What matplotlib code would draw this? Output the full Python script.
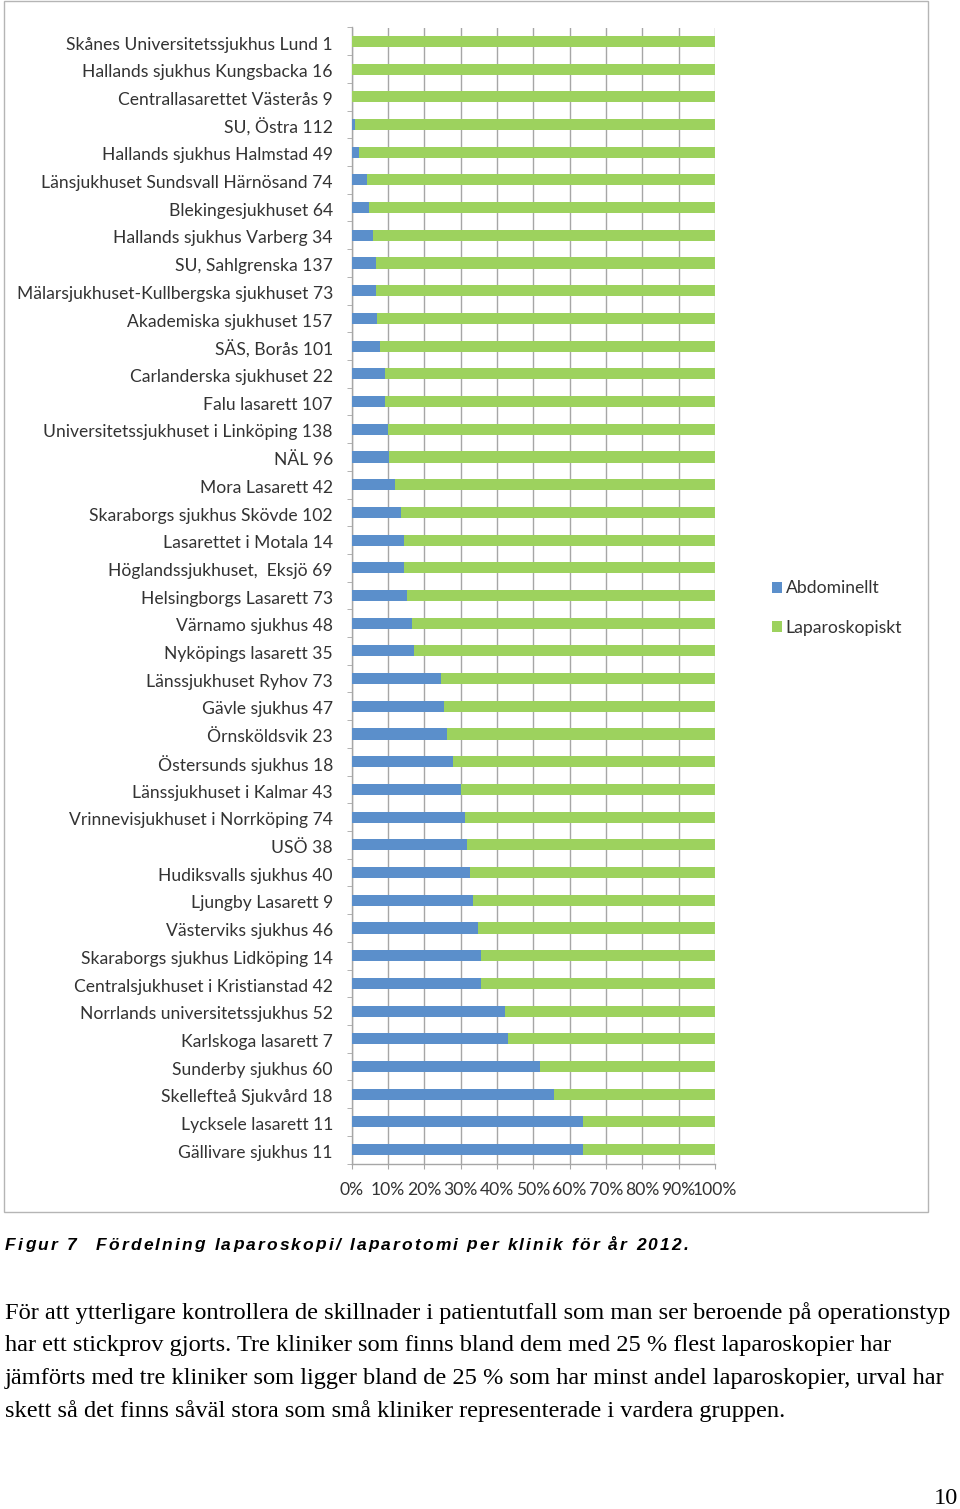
import matplotlib
matplotlib.use("Agg")
import matplotlib.pyplot as plt
import numpy as np
from matplotlib.patches import Rectangle
from matplotlib.textpath import TextToPath
from matplotlib.font_manager import FontProperties

clinics = [
    "Skånes Universitetssjukhus Lund 1",
    "Hallands sjukhus Kungsbacka 16",
    "Centrallasarettet Västerås 9",
    "SU, Östra 112",
    "Hallands sjukhus Halmstad 49",
    "Länsjukhuset Sundsvall Härnösand 74",
    "Blekingesjukhuset 64",
    "Hallands sjukhus Varberg 34",
    "SU, Sahlgrenska 137",
    "Mälarsjukhuset-Kullbergska sjukhuset 73",
    "Akademiska sjukhuset 157",
    "SÄS, Borås 101",
    "Carlanderska sjukhuset 22",
    "Falu lasarett 107",
    "Universitetssjukhuset i Linköping 138",
    "NÄL 96",
    "Mora Lasarett 42",
    "Skaraborgs sjukhus Skövde 102",
    "Lasarettet i Motala 14",
    "Höglandssjukhuset,  Eksjö 69",
    "Helsingborgs Lasarett 73",
    "Värnamo sjukhus 48",
    "Nyköpings lasarett 35",
    "Länssjukhuset Ryhov 73",
    "Gävle sjukhus 47",
    "Örnsköldsvik 23",
    "Östersunds sjukhus 18",
    "Länssjukhuset i Kalmar 43",
    "Vrinnevisjukhuset i Norrköping 74",
    "USÖ 38",
    "Hudiksvalls sjukhus 40",
    "Ljungby Lasarett 9",
    "Västerviks sjukhus 46",
    "Skaraborgs sjukhus Lidköping 14",
    "Centralsjukhuset i Kristianstad 42",
    "Norrlands universitetssjukhus 52",
    "Karlskoga lasarett 7",
    "Sunderby sjukhus 60",
    "Skellefteå Sjukvård 18",
    "Lycksele lasarett 11",
    "Gällivare sjukhus 11",
]

abdominellt = [0.0, 0.0, 0.0, 0.9, 2.0, 4.1, 4.7, 5.9, 6.6, 6.8, 7.0, 7.9,
               9.1, 9.3, 10.1, 10.4, 11.9, 13.7, 14.3, 14.5, 15.1, 16.7, 17.1,
               24.7, 25.5, 26.1, 27.8, 30.2, 31.1, 31.6, 32.5, 33.3, 34.8,
               35.7, 35.7, 42.3, 42.9, 51.7, 55.6, 63.6, 63.6]
laparoskopiskt = [100.0, 100.0, 100.0, 99.1, 98.0, 95.9, 95.3, 94.1, 93.4,
                  93.2, 93.0, 92.1, 90.9, 90.7, 89.9, 89.6, 88.1, 86.3, 85.7,
                  85.5, 84.9, 83.3, 82.9, 75.3, 74.5, 73.9, 72.2, 69.8, 68.9,
                  68.4, 67.5, 66.7, 65.2, 64.3, 64.3, 57.7, 57.1, 48.3, 44.4,
                  36.4, 36.4]
series_names = ["Abdominellt", "Laparoskopiskt"]
x_ticks = [0, 10, 20, 30, 40, 50, 60, 70, 80, 90, 100]
x_ticklabels = ["0%", "10%", "20%", "30%", "40%", "50%", "60%", "70%", "80%", "90%", "100%"]

caption_a = "Figur 7"
caption_b = "Fördelning laparoskopi/ laparotomi per klinik för år 2012."
body_lines = [
    "För att ytterligare kontrollera de skillnader i patientutfall som man ser beroende på operationstyp",
    "har ett stickprov gjorts. Tre kliniker som finns bland dem med 25 % flest laparoskopier har",
    "jämförts med tre kliniker som ligger bland de 25 % som har minst andel laparoskopier, urval har",
    "skett så det finns såväl stora som små kliniker representerade i vardera gruppen.",
]
page_number = "10"

W, H = 960, 1509
DPI = 100
BLUE = "#5b8fcb"
GREEN = "#9dd25e"
GRID = "#a6a6a6"
TXT = "#333333"

ttp = TextToPath()


def width_px(s, fp):
    w, h, d = ttp.get_text_width_height_descent(s, fp, ismath=False)
    return w * DPI / 72.0


# fit label font size to reference width
LABEL_FAMILY = "Lato"
probe = FontProperties(family=LABEL_FAMILY, size=12)
label_size = 12 * 265.0 / width_px(clinics[0], probe)

fig = plt.figure(figsize=(W / DPI, H / DPI), dpi=DPI)
fig.patch.set_facecolor("white")

# chart frame
fig.add_artist(Rectangle((4 / W, 1 - 1212 / H), (928 - 4) / W, 1211 / H,
                         transform=fig.transFigure, fill=False,
                         edgecolor="#b5b5b5", lw=1))

left, right = 351.7 / W, 715.0 / W
top, bottom = 1 - 27.5 / H, 1 - 1163.5 / H
ax = fig.add_axes([left, bottom, right - left, top - bottom])

y = np.arange(len(clinics))
b1 = ax.barh(y, abdominellt, height=0.4, color=BLUE, label=series_names[0], zorder=3)
b2 = ax.barh(y, laparoskopiskt, left=abdominellt, height=0.4, color=GREEN,
             label=series_names[1], zorder=3)

ax.set_xlim(0, 100)
ax.set_ylim(len(clinics) - 0.5, -0.5)
ax.set_xticks(x_ticks)
ax.set_xticklabels(x_ticklabels, family=LABEL_FAMILY, fontsize=label_size, color=TXT)
ax.set_yticks(y + 0.06)
ax.set_yticklabels(clinics, family=LABEL_FAMILY, fontsize=label_size, color=TXT)
ax.set_yticks(np.arange(len(clinics) + 1) - 0.5, minor=True)
ax.tick_params(axis="y", which="major", length=0, pad=13.5)
ax.tick_params(axis="y", which="minor", length=3.5, color=GRID, direction="out")
ax.tick_params(axis="x", which="major", length=3.5, color=GRID, direction="out", pad=9.5)
ax.xaxis.grid(True, color=GRID, lw=1, zorder=0)
ax.set_axisbelow(True)
for s in ["top", "right"]:
    ax.spines[s].set_visible(False)
for s in ["left", "bottom"]:
    ax.spines[s].set_color(GRID)
    ax.spines[s].set_linewidth(1)

fig.legend(handles=[b1, b2], labels=series_names, loc="center left",
           bbox_to_anchor=(756 / W, 1 - 608 / H), frameon=False,
           prop=FontProperties(family=LABEL_FAMILY, size=label_size),
           handlelength=0.6, handleheight=0.6, handletextpad=0.2,
           labelspacing=1.35, labelcolor=TXT)

# caption with letter tracking
cap_fp = FontProperties(family="Liberation Sans", weight="bold", style="italic", size=12.5)


def tracked(x0, x1, yc, s, fp):
    widths = [width_px(ch, fp) for ch in s]
    track = (x1 - x0 - sum(widths)) / max(len(s) - 1, 1)
    x = x0
    for ch, w in zip(s, widths):
        if ch != " ":
            fig.text(x / W, 1 - yc / H, ch, fontproperties=fp, va="center",
                     ha="left", color="black")
        x += w + track


tracked(5, 76, 1245, caption_a, cap_fp)
tracked(96, 688, 1245, caption_b, cap_fp)

# body text
body_probe = FontProperties(family="Liberation Serif", size=16)
body_size = 16 * 947.0 / width_px(body_lines[0], body_probe)
body_fp = FontProperties(family="Liberation Serif", size=body_size)
for i, line in enumerate(body_lines):
    fig.text(5 / W, 1 - (1313 + i * 32.7) / H, line, fontproperties=body_fp,
             va="center", ha="left", color="black")

fig.text(958 / W, 1 - 1498 / H, page_number, fontproperties=body_fp,
         va="center", ha="right", color="black")

fig.savefig("out.png", dpi=DPI, facecolor="white")
